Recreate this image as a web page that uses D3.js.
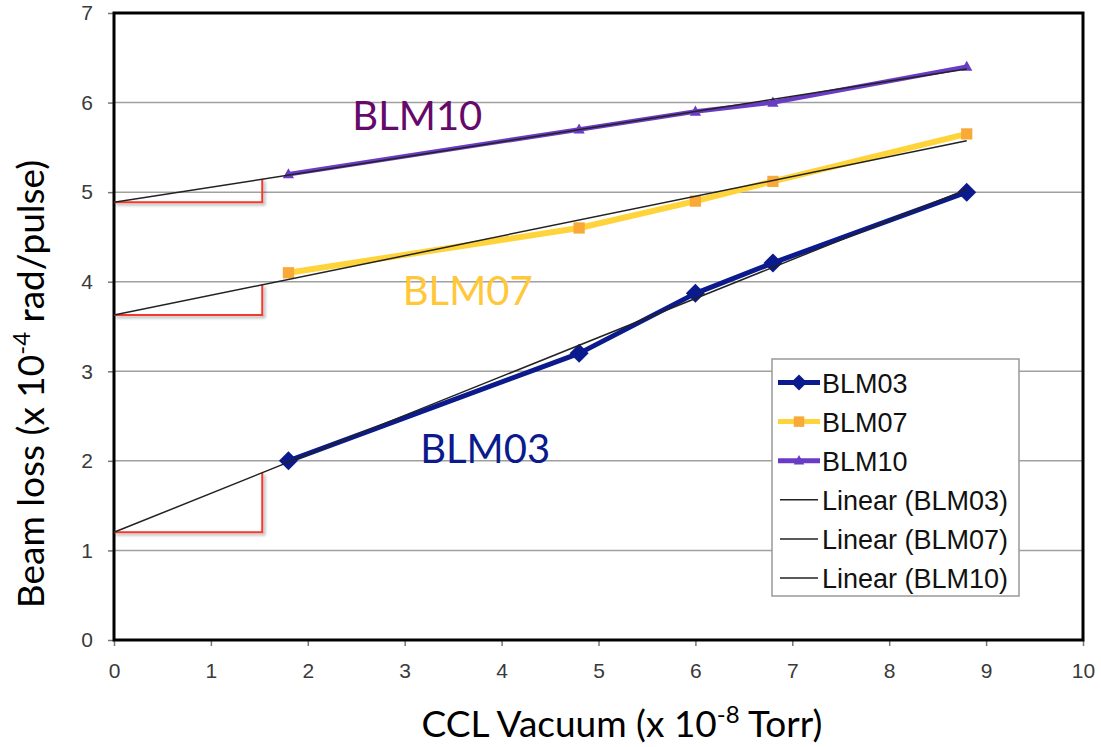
<!DOCTYPE html>
<html><head><meta charset="utf-8">
<script src="https://cdn.jsdelivr.net/npm/d3@7"></script>
<style>body{margin:0;background:#fff}svg{display:block}.tick text{font-size:21px;font-family:"Liberation Sans",Arial,sans-serif}</style>
</head><body>
<script>
const xValues = [1.8, 4.8, 6.0, 6.8, 8.8];
const blm03 = [2.0, 3.2, 3.87, 4.21, 5.0];
const blm07 = [4.1, 4.6, 4.9, 5.12, 5.65];
const blm10 = [5.2, 5.7, 5.9, 6.0, 6.4];
const seriesNames = ["BLM03", "BLM07", "BLM10"];
const trendNames = ["Linear (BLM03)", "Linear (BLM07)", "Linear (BLM10)"];
const xTicks = [0,1,2,3,4,5,6,7,8,9,10];
const yTicks = [0,1,2,3,4,5,6,7];
const redCornerX = 1.53;

const W = 1101, H = 747;
const m = {l:114, r:1083, t:13, b:640};
const svg = d3.select("body").append("svg").attr("width", W).attr("height", H);
const x = d3.scaleLinear().domain([0,10]).range([m.l, m.r]);
const y = d3.scaleLinear().domain([0,7]).range([m.b, m.t]);

const series = [
  {name:seriesNames[0], vals:blm03, line:"#0b1a8c", mark:"#0b1a8c", shape:"diamond", lw:5, label:{x:3.16,y:1.98,c:"#0b1a8c"}},
  {name:seriesNames[1], vals:blm07, line:"#ffd43b", mark:"#f8a937", shape:"square", lw:6, label:{x:2.98,y:3.74,c:"#ffc83a"}},
  {name:seriesNames[2], vals:blm10, line:"#6a3bc4", mark:"#6a3bc4", shape:"triangle", lw:4.5, label:{x:2.46,y:5.69,c:"#650a6a"}}
];
function fit(xs, ys){
  const mx=d3.mean(xs), my=d3.mean(ys);
  const sxy=d3.sum(xs,(v,i)=>(v-mx)*(ys[i]-my)), sxx=d3.sum(xs,v=>(v-mx)*(v-mx));
  const s=sxy/sxx; return {s, b:my-s*mx};
}

// gridlines
svg.append("g").selectAll("line").data(yTicks.filter(d=>d>0&&d<7)).join("line")
  .attr("x1",m.l).attr("x2",m.r).attr("y1",d=>y(d)).attr("y2",d=>y(d))
  .attr("stroke","#a0a0a0").attr("stroke-width",1.5);

// axes
const yAxis = d3.axisLeft(y).tickValues(yTicks).tickSize(6).tickPadding(15).tickFormat(d3.format("d"));
const xAxis = d3.axisBottom(x).tickValues(xTicks).tickSize(6).tickPadding(17).tickFormat(d3.format("d"));
const gy = svg.append("g").attr("transform",`translate(${m.l},0)`).call(yAxis);
const gx = svg.append("g").attr("transform",`translate(0,${m.b})`).call(xAxis);
[gx,gy].forEach(g=>{
  g.attr("font-size",null).attr("font-family",null);
  g.select(".domain").remove();
  g.selectAll(".tick line").attr("stroke","#777").attr("stroke-width",1.5);
  g.selectAll(".tick text").attr("fill","#3a3a3a").style("font-size","21px");
});

// plot border
svg.append("rect").attr("x",m.l).attr("y",m.t).attr("width",m.r-m.l).attr("height",m.b-m.t)
  .attr("fill","none").attr("stroke","#000").attr("stroke-width",3);

// red triangles (shadowed)
const defs = svg.append("defs");
const f = defs.append("filter").attr("id","sh").attr("x","-20%").attr("y","-20%").attr("width","150%").attr("height","150%");
f.append("feDropShadow").attr("dx",2).attr("dy",2).attr("stdDeviation",1.5).attr("flood-color","#000").attr("flood-opacity",0.35);

series.forEach(s=>{
  const ft = fit(xValues, s.vals);
  svg.append("path").attr("filter","url(#sh)")
    .attr("d", d3.line()([[x(0),y(ft.b)],[x(redCornerX),y(ft.b)],[x(redCornerX),y(ft.b+ft.s*redCornerX)]]))
    .attr("fill","none").attr("stroke","#f03a2e").attr("stroke-width",2);
});

// series lines
const line = d3.line().x(d=>x(d[0])).y(d=>y(d[1]));
function marker(g, shape, color, cx, cy, sz){
  if(shape==="diamond") g.append("path").attr("d",`M${cx},${cy-sz}L${cx+sz},${cy}L${cx},${cy+sz}L${cx-sz},${cy}Z`).attr("fill",color);
  else if(shape==="square") g.append("rect").attr("x",cx-sz*0.75).attr("y",cy-sz*0.75).attr("width",sz*1.5).attr("height",sz*1.5).attr("fill",color);
  else g.append("path").attr("d",`M${cx},${cy-sz*0.8}L${cx+sz*0.75},${cy+sz*0.55}L${cx-sz*0.75},${cy+sz*0.55}Z`).attr("fill",color);
}
series.forEach(s=>{
  const pts = xValues.map((v,i)=>[v,s.vals[i]]);
  svg.append("path").attr("d",line(pts)).attr("fill","none").attr("stroke",s.line).attr("stroke-width",s.lw).attr("stroke-linejoin","round");
  const g = svg.append("g");
  pts.forEach(p=>marker(g, s.shape, s.mark, x(p[0]), y(p[1]), s.shape==="diamond"?9.5:7.5));
});
// trend lines
series.forEach(s=>{
  const ft = fit(xValues, s.vals);
  const xe = d3.max(xValues);
  svg.append("path").attr("d",line([[0,ft.b],[xe,ft.b+ft.s*xe]]))
    .attr("fill","none").attr("stroke","#222").attr("stroke-width",1.5);
});

// annotations
series.forEach(s=>{
  svg.append("text").attr("x",x(s.label.x)).attr("y",y(s.label.y)).attr("fill",s.label.c)
    .style("font-family","Lato, 'Open Sans', sans-serif").style("font-size","40px").text(s.name);
});

// legend
const lg = svg.append("g");
lg.append("rect").attr("x",772).attr("y",359).attr("width",247).attr("height",237)
  .attr("fill","#fff").attr("stroke","#999").attr("stroke-width",1.5);
const entries = series.map(s=>({t:s.name, s})).concat(trendNames.map(t=>({t, s:null})));
entries.forEach((e,i)=>{
  const cy = 382.5 + i*39.1;
  if(e.s){
    lg.append("line").attr("x1",778).attr("x2",820).attr("y1",cy).attr("y2",cy).attr("stroke",e.s.line).attr("stroke-width",5);
    marker(lg, e.s.shape, e.s.mark, 799, cy, e.s.shape==="diamond"?8:7);
  } else {
    lg.append("line").attr("x1",780).attr("x2",818).attr("y1",cy).attr("y2",cy).attr("stroke","#222").attr("stroke-width",1.5);
  }
  lg.append("text").attr("x",822).attr("y",cy+10).attr("fill","#111")
    .style("font-family","Liberation Sans, Arial, sans-serif").style("font-size","27px").text(e.t);
});

// axis titles
const xt = svg.append("text").attr("x",622).attr("y",737).attr("text-anchor","middle").attr("fill","#000")
  .style("font-family","Lato, 'Open Sans', sans-serif").style("font-size","37px");
xt.append("tspan").text("CCL Vacuum (x 10");
xt.append("tspan").attr("dy",-14).style("font-size","24px").text("-8");
xt.append("tspan").attr("dy",14).text(" Torr)");

const yt = svg.append("text").attr("transform","translate(44,384) rotate(-90)").attr("text-anchor","middle").attr("fill","#000")
  .style("font-family","Lato, 'Open Sans', sans-serif").style("font-size","37px");
yt.append("tspan").text("Beam loss (x 10");
yt.append("tspan").attr("dy",-14).style("font-size","24px").text("-4");
yt.append("tspan").attr("dy",14).text(" rad/pulse)");
</script>
</body></html>
